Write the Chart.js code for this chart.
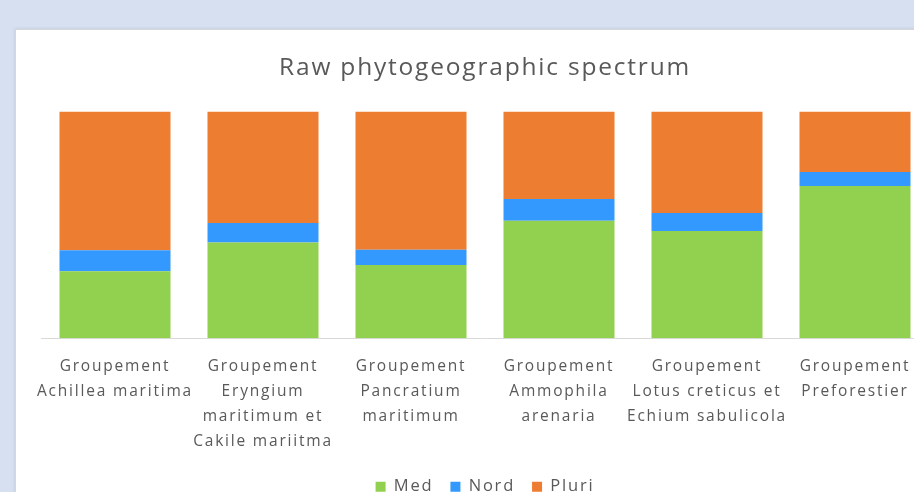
<!DOCTYPE html>
<html>
<head>
<meta charset="utf-8">
<script src="https://cdn.jsdelivr.net/npm/chart.js@4/dist/chart.umd.min.js"></script>
<style>
    html, body {
        margin: 0;
        padding: 0;
        width: 914px;
        height: 492px;
        overflow: hidden;
        background: #d6e0f0;
    }
    #panel {
        position: absolute;
        left: 15px;
        top: 29px;
        width: 946px;
        height: 490px;
        background: #ffffff;
        border: 1px solid #d4d8de;
        box-shadow: 0 0 3px rgba(0, 0, 0, 0.12);
    }
    #chart {
        position: absolute;
        left: 1px;
        top: 1px;
    }
</style>
</head>
<body>
<div id="panel">
    <canvas id="chart" width="944" height="478"></canvas>
</div>
<script>
// Data (shares in %)
const groups = [
    ['Groupement', 'Achillea maritima'],
    ['Groupement', 'Eryngium', 'maritimum et', 'Cakile mariitma'],
    ['Groupement', 'Pancratium', 'maritimum'],
    ['Groupement', 'Ammophila', 'arenaria'],
    ['Groupement', 'Lotus creticus et', 'Echium sabulicola'],
    ['Groupement', 'Preforestier']
];
const medValues = [29.5, 42.2, 32.3, 51.8, 47.3, 67.1];
const nordValues = [9.3, 8.6, 6.7, 9.6, 7.9, 6.2];
const pluriValues = [61.2, 49.2, 61.0, 38.6, 44.8, 26.7];

const textColor = '#595959';
const fontFamily = "'Open Sans', sans-serif";

// Spread letters a bit, like the original rendering
const spacing = {
    id: 'spacing',
    beforeInit: chart => { chart.ctx.letterSpacing = '1.8px'; },
    beforeLayout: chart => { chart.ctx.letterSpacing = '1.8px'; },
    beforeDraw: chart => { chart.ctx.letterSpacing = '1.8px'; }
};

const ctx = document.getElementById('chart').getContext('2d');

new Chart(ctx, {
    type: 'bar',
    data: {
        labels: groups,
        datasets: [
            { label: 'Med', data: medValues, backgroundColor: '#92d050' },
            { label: 'Nord', data: nordValues, backgroundColor: '#3399ff' },
            { label: 'Pluri', data: pluriValues, backgroundColor: '#ed7d31' }
        ]
    },
    plugins: [spacing],
    options: {
        responsive: false,
        animation: false,
        barPercentage: 0.75,
        categoryPercentage: 1,
        layout: {
            padding: { left: 24, right: 32, top: 0, bottom: 4 }
        },
        plugins: {
            title: {
                display: true,
                text: 'Raw phytogeographic spectrum',
                color: textColor,
                font: { family: fontFamily, size: 24.5, weight: 'normal' },
                padding: { top: 22, bottom: 29 }
            },
            legend: {
                position: 'bottom',
                labels: {
                    color: textColor,
                    font: { family: fontFamily, size: 16.5 },
                    boxWidth: 10,
                    boxHeight: 10,
                    padding: 17
                }
            },
            tooltip: { enabled: false }
        },
        scales: {
            x: {
                stacked: true,
                grid: { display: false },
                border: { display: true, color: '#d9d9d9', width: 1 },
                ticks: {
                    color: textColor,
                    font: { family: fontFamily, size: 15.5, lineHeight: 1.6 },
                    padding: 8,
                    maxRotation: 0,
                    autoSkip: false
                }
            },
            y: {
                stacked: true,
                display: false,
                min: 0,
                max: 100
            }
        }
    }
});
</script>
</body>
</html>
